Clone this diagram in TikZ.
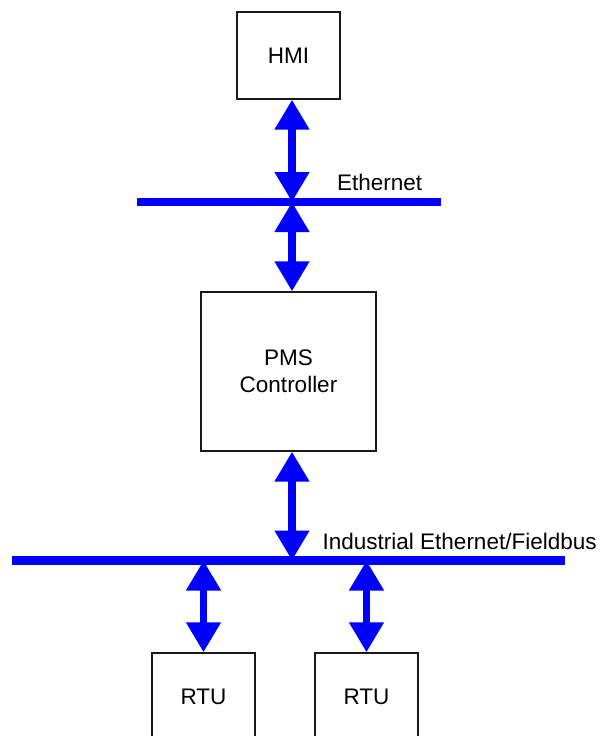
\documentclass[tikz,border=0pt]{standalone}
\usepackage{fontspec}
\setmainfont{Liberation Sans}
\usetikzlibrary{arrows.meta}
\tikzset{
  box/.style={draw=black!90, line width=1.3pt, fill=white, inner sep=0pt, align=center,
    font=\fontsize{22.5}{27}\selectfont},
  bus/.style={draw=blue, line width=8.5pt},
  link/.style={draw=blue, line width=7.5pt,
    {Triangle[width=33pt,length=30pt]}-{Triangle[width=33pt,length=30pt]}},
  lbl/.style={anchor=base west, inner sep=0pt, font=\fontsize{22.5}{27}\selectfont}
}
\begin{document}
\begin{tikzpicture}[x=1pt,y=-1pt]
\useasboundingbox (0,0) rectangle (606,736);
\clip (0,0) rectangle (606,736);
% nodes
\node[box, minimum width=103pt, minimum height=87pt] (hmi) at (288.5,55.5) {HMI};
\node[box, minimum width=175pt, minimum height=159pt] (pms) at (288.5,371.5) {PMS\\Controller};
\node[box, minimum width=103pt, minimum height=87pt] (rtu1) at (203.5,696.5) {RTU};
\node[box, minimum width=103pt, minimum height=87pt] (rtu2) at (366.5,696.5) {RTU};
% bus lines
\coordinate (ethL) at (137,202);
\coordinate (ethR) at (441,202);
\coordinate (eth) at (292,202);
\coordinate (fbL) at (12,560.5);
\coordinate (fbR) at (565,560.5);
\coordinate (fb) at (292,560.5);
\coordinate (fb1) at (203.5,560.5);
\coordinate (fb2) at (366.5,560.5);
\draw[bus] (ethL) -- (ethR);
\draw[bus] (fbL) -- (fbR);
% labels
\node[lbl] (ethlbl) at (337,190) {Ethernet};
\node[lbl] (fblbl) at (322.5,549.5) {Industrial Ethernet/Fieldbus};
% connectors
\draw[link] (eth |- hmi.south) -- (eth);
\draw[link] (eth) -- (eth |- pms.north);
\draw[link] (fb |- pms.south) -- (fb);
\draw[link] (fb1) -- (rtu1.north);
\draw[link] (fb2) -- (rtu2.north);
\end{tikzpicture}
\end{document}
